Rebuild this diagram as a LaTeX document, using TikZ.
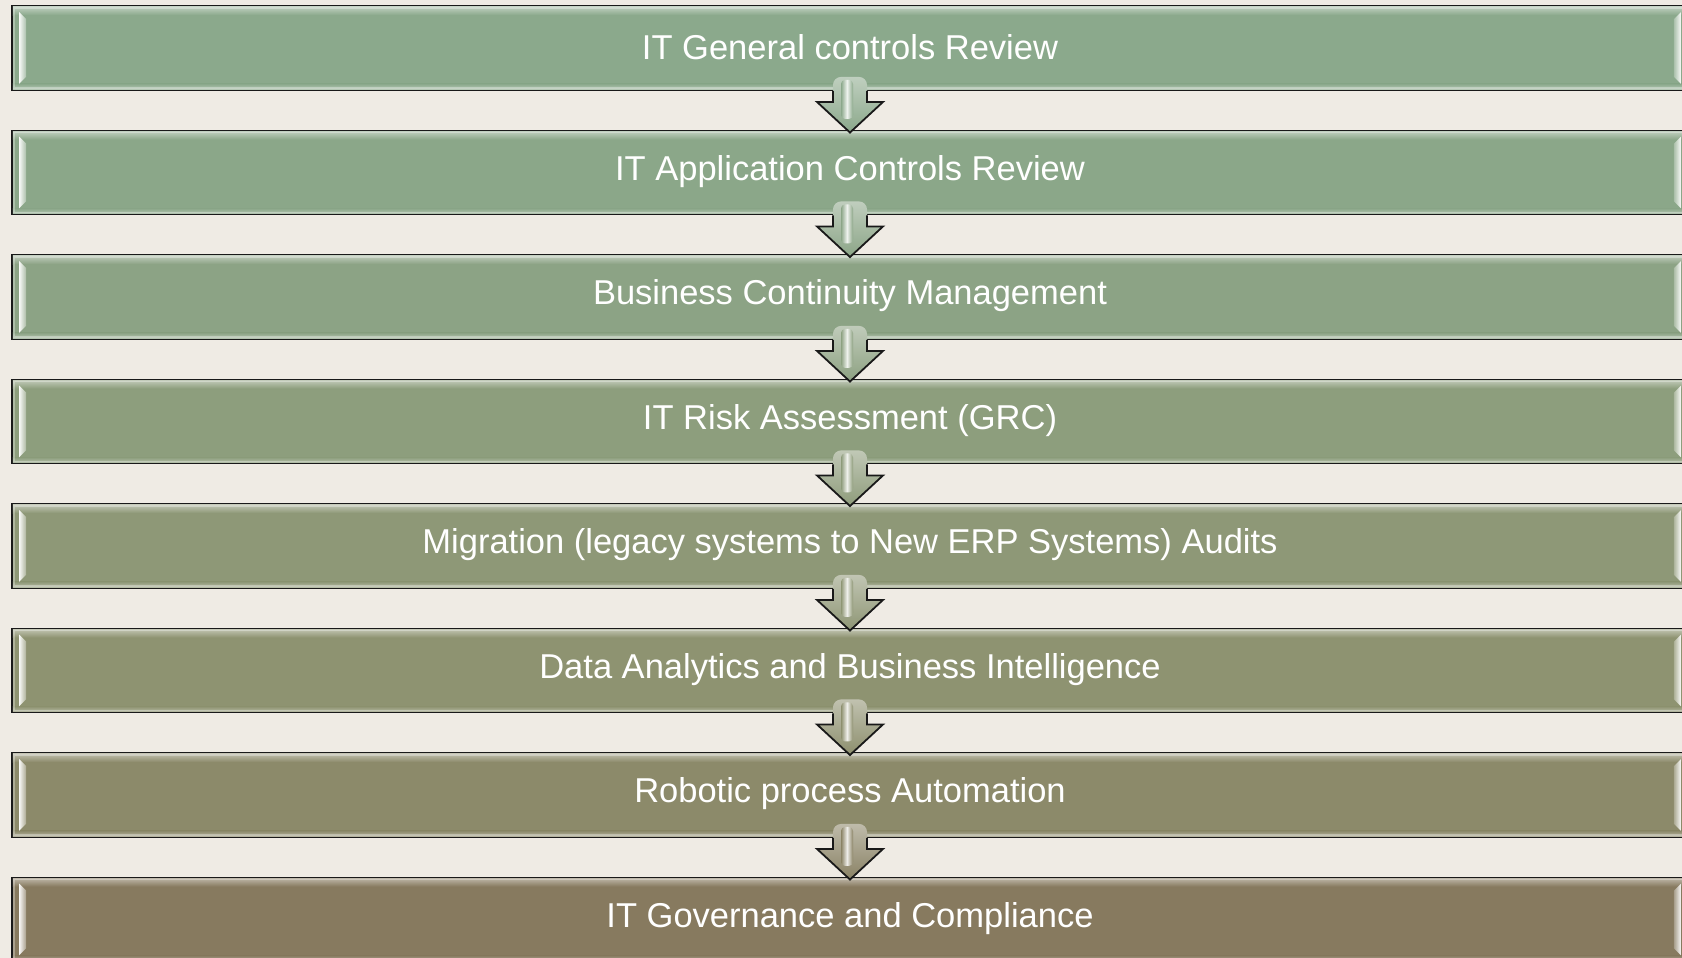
\documentclass[tikz,border=0pt]{standalone}
\usepackage{fontspec}
\setmainfont{Liberation Sans}
\usetikzlibrary{calc}
\definecolor{bg}{HTML}{EFEBE4}
\definecolor{c1}{HTML}{8BA98C}
\definecolor{c2}{HTML}{8BA789}
\definecolor{c3}{HTML}{8CA385}
\definecolor{c4}{HTML}{8D9E7D}
\definecolor{c5}{HTML}{8E9877}
\definecolor{c6}{HTML}{8E9371}
\definecolor{c7}{HTML}{8C8A6A}
\definecolor{c8}{HTML}{877A5F}
\begin{document}
\begin{tikzpicture}[x=1pt,y=1pt,
  stage/.style={draw=black!90, line width=1.9pt, minimum width=1676pt, minimum height=84pt,
    inner sep=0pt},
  label/.style={text=white, font=\fontsize{34.5}{40}\selectfont},
  bevel/.style={draw=white, opacity=0.3, line width=1.5pt},
  gloss/.style={opacity=0.95}]
\useasboundingbox[fill=bg] (0,0) rectangle (1682,958);
\clip (0,0) rectangle (1682,958);
\foreach \i/\t in {1/{IT General controls Review},
                   2/{IT Application Controls Review},
                   3/{Business Continuity Management},
                   4/{IT Risk Assessment (GRC)},
                   5/{Migration (legacy systems to New ERP Systems) Audits},
                   6/{Data Analytics and Business Intelligence},
                   7/{Robotic process Automation},
                   8/{IT Governance and Compliance}} {
  \node[stage, fill=c\i] (b\i) at (850, {910 - 124.5*(\i-1)}) {};
  % top bevel band
  \shade[top color=white!45!c\i, bottom color=c\i]
    ($(b\i.north west)+(1.8,-1.8)$) rectangle ($(b\i.north east)+(-1.8,-10)$);
  % bottom bevel band
  \shade[top color=c\i, bottom color=white!35!c\i]
    ($(b\i.south west)+(1.8,7)$) rectangle ($(b\i.south east)+(-1.8,1.8)$);
  \draw[bevel] ($(b\i.north west)+(3,-3)$) rectangle ($(b\i.south east)+(-3,3)$);
  % left gloss
  \shade[gloss, left color=white, right color=white!30!c\i]
    ($(b\i.north west)+(8,-7)$) -- ($(b\i.north west)+(15,-14)$)
    -- ($(b\i.south west)+(15,14)$) -- ($(b\i.south west)+(8,7)$) -- cycle;
  % right gloss
  \shade[gloss, right color=white, left color=white!30!c\i]
    ($(b\i.north east)+(-8,-7)$) -- ($(b\i.north east)+(-15,-14)$)
    -- ($(b\i.south east)+(-15,14)$) -- ($(b\i.south east)+(-8,7)$) -- cycle;
  \node[label] at ($(b\i.center)+(0,1)$) {\t};
}
\foreach \i [count=\j from 2] in {1,...,7} {
  \path (b\i.south) coordinate (s\i);
  \path (b\j.north) coordinate (n\i);
  \colorlet{ac}{c\i!55!c\j}
  \shade[top color=white!45!ac, bottom color=ac]
    ($(n\i)+(0,-3)$) -- ($(s\i)+(-33,-11)$) -- ($(s\i)+(-17,-11)$)
    [rounded corners=8pt] -- ($(s\i)+(-17,14)$) -- ($(s\i)+(17,14)$)
    [sharp corners] -- ($(s\i)+(17,-11)$) -- ($(s\i)+(33,-11)$) -- cycle;
  \shade[left color=ac, right color=ac, middle color=white!85!ac, rounded corners=4pt]
    ($(s\i)+(-9,11)$) rectangle ($(s\i)+(3,-28)$);
  \draw[black!90, line width=1.8pt, line join=miter]
    ($(s\i)+(-17,0)$) -- ($(s\i)+(-17,-11)$) -- ($(s\i)+(-33,-11)$)
    -- ($(n\i)+(0,-3)$) -- ($(s\i)+(33,-11)$) -- ($(s\i)+(17,-11)$) -- ($(s\i)+(17,0)$);
}
\end{tikzpicture}
\end{document}
